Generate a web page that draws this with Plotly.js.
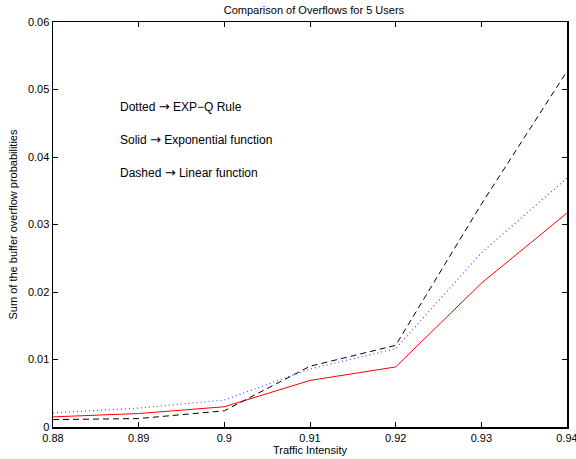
<!DOCTYPE html>
<html><head><meta charset="utf-8">
<script src="https://cdn.plot.ly/plotly-3.0.1.min.js"></script>
<style>html,body{margin:0;padding:0;background:#fff}</style>
</head><body>
<div id="chart" style="width:576px;height:459px"></div>
<script>
const traffic = [0.88, 0.89, 0.90, 0.91, 0.92, 0.93, 0.94];
const expQRule = [0.0021, 0.0028, 0.0040, 0.0086, 0.0116, 0.0258, 0.0369];
const exponentialFn = [0.0015, 0.0020, 0.0030, 0.0069, 0.0089, 0.0213, 0.0317];
const linearFn = [0.0011, 0.00125, 0.0024, 0.0090, 0.0121, 0.0330, 0.0527];
const xTicks = [0.88, 0.89, 0.90, 0.91, 0.92, 0.93, 0.94];
const xTickText = ['0.88', '0.89', '0.9', '0.91', '0.92', '0.93', '0.94'];
const yTicks = [0, 0.01, 0.02, 0.03, 0.04, 0.05, 0.06];
const yTickText = ['0', '0.01', '0.02', '0.03', '0.04', '0.05', '0.06'];
const noteLeft = ['Dotted', 'Solid', 'Dashed'];
const noteRight = ['EXP\u2212Q Rule', 'Exponential function', 'Linear function'];
const noteY = [0.0475, 0.0426, 0.0377];

const font = 'Liberation Sans, Arial, sans-serif';
const arrow = '<span style="font-family:DejaVu Sans;font-size:13px">\u2192</span>';
const traces = [
  {x: traffic, y: expQRule, mode: 'lines', line: {color: '#4a4aff', width: 1.2, dash: '1px,3px'}},
  {x: traffic, y: exponentialFn, mode: 'lines', line: {color: '#ff0000', width: 1}},
  {x: traffic, y: linearFn, mode: 'lines', line: {color: '#000000', width: 1, dash: '6px,4px'}}
];
const axisCommon = {showgrid: false, zeroline: false, showline: true, linecolor: '#000', linewidth: 1.5,
  mirror: 'allticks', ticks: 'inside', ticklen: 5, tickcolor: '#000', tickwidth: 1,
  ticklabeloverflow: 'allow',
  tickfont: {family: font, size: 11, color: '#000'}};
const layout = {
  width: 576, height: 459,
  margin: {l: 53, r: 9, t: 22, b: 32},
  paper_bgcolor: '#fff', plot_bgcolor: '#fff',
  showlegend: false,
  title: {text: 'Comparison of Overflows for 5 Users', font: {family: font, size: 11, color: '#000'}, x: 0.545, xanchor: 'center', y: 0.978, yanchor: 'middle'},
  xaxis: Object.assign({}, axisCommon, {range: [0.88, 0.94], tickvals: xTicks, ticktext: xTickText,
    title: {text: 'Traffic Intensity', font: {family: font, size: 11, color: '#000'}, standoff: 2}}),
  yaxis: Object.assign({}, axisCommon, {range: [0, 0.06], tickvals: yTicks, ticktext: yTickText,
    title: {text: 'Sum of the buffer overflow probabilities', font: {family: font, size: 11, color: '#000'}, standoff: 8}}),
  annotations: noteLeft.map((t, i) => ({x: 0.8876, y: noteY[i], xref: 'x', yref: 'y', text: t + ' ' + arrow + ' ' + noteRight[i], showarrow: false,
    xanchor: 'left', yanchor: 'middle', font: {family: font, size: 12, color: '#000'}}))
};
Plotly.newPlot('chart', traces, layout, {staticPlot: true, displayModeBar: false});
</script>
</body></html>
